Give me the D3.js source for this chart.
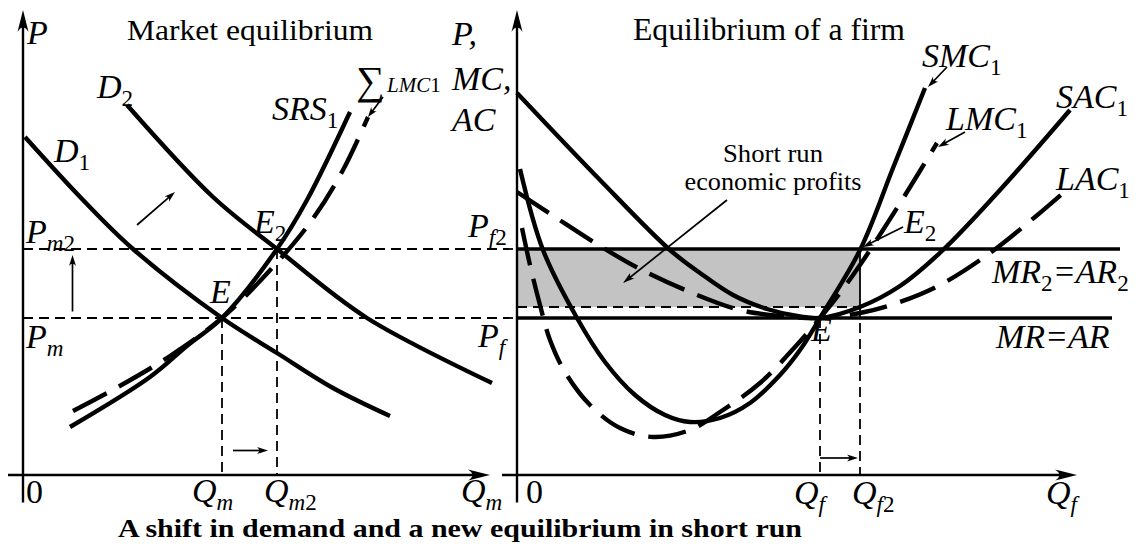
<!DOCTYPE html>
<html>
<head>
<meta charset="utf-8">
<script src="https://cdn.jsdelivr.net/npm/d3@7"></script>
<style>
  body { margin: 0; background: #fff; }
  svg { display: block; }
  text { font-family: "Liberation Serif", "Times New Roman", serif; fill: #000; }
</style>
</head>
<body>
<div id="chart"></div>
<script>
// ---- data (quantity, price) ----
// market panel
var marketQ = [39.8, 50.8];          // Qm, Qm2
var marketP = [31.4, 45.2];          // Pm, Pm2
var demand1 = [[0.4, 67.6], [12, 55], [22, 45.2], [39.8, 31.4], [50.8, 24.4], [62, 17.4], [73.4, 11.8]];
var demand2 = [[20.8, 74], [38, 55.6], [50.8, 45.2], [68.8, 31.4], [93.8, 18.4]];
var srs1 = [[9.4, 9.6], [25.4, 19.6], [33, 26], [39.8, 31.4], [50.8, 45.2], [56.8, 55], [65.4, 72.6]];
var sumLmc1 = [[10, 12.8], [19, 17.6], [29.4, 23.8], [39.8, 31.4], [50, 41.6], [57.8, 51], [64, 61], [69, 71.6]];

// firm panel
var firmQ = [60.6, 68.6];            // Qf, Qf2
var firmP = [31.4, 45.2];            // Pf, Pf2
var sac1 = [[0, 76.4], [16.6, 59], [30.6, 45], [36.6, 40.4], [43.2, 36], [50, 33.2], [56.6, 31.7], [60.6, 31.4],
            [68.6, 33.6], [76.6, 37.8], [85.2, 45], [96.6, 57], [110.6, 73]];
var smc1 = [[0.6, 61.2], [5.2, 45], [12, 31.4], [17.6, 22.6], [23.6, 16], [29.6, 12], [34.6, 10.6], [40.6, 11.4],
            [46.6, 14.4], [52.6, 20], [56.6, 25], [60.6, 31.4], [68.6, 45], [75.2, 61.4], [81.6, 77.4]];
var lmc1 = [[1, 49.4], [2.6, 42], [4.6, 34], [6.6, 27], [9.6, 20.6], [14.6, 14], [20.6, 9.4], [27.2, 7.6], [34.6, 9],
            [40.6, 12.6], [48.6, 18.4], [55.6, 25.6], [60.6, 31.4], [64.6, 36.4], [68.6, 42], [73.2, 49], [78, 56.6], [84, 66.4]];
var lac1 = [[0, 56.6], [7.6, 51.6], [16.6, 45.8], [24.6, 41.2], [34.6, 36.6], [44.6, 33], [52.6, 31.8], [60.6, 31.4],
            [68.6, 32.4], [76.6, 34.6], [84.6, 38], [94.6, 44.4], [103.6, 51.6], [110.6, 57.6]];
var mrEnd = [119, 120.6];            // right ends of MR=AR and MR2=AR2

var svg = d3.select("#chart").append("svg")
    .attr("width", 1142)
    .attr("height", 544);

var xL = d3.scaleLinear().domain([0, 94]).range([23, 493]);
var xR = d3.scaleLinear().domain([0, 112]).range([517, 1077]);
var y = d3.scaleLinear().domain([0, 93]).range([475, 10]);

function curve(sx) {
    return d3.line()
        .x(function(d) { return sx(d[0]); })
        .y(function(d) { return y(d[1]); })
        .curve(d3.curveCatmullRom.alpha(0.5));
}

function seg(x1, y1, x2, y2, w, dash) {
    var l = svg.append("line")
        .attr("x1", x1).attr("y1", y1).attr("x2", x2).attr("y2", y2)
        .attr("stroke", "#000").attr("stroke-width", w);
    if (dash) l.attr("stroke-dasharray", dash);
    return l;
}

// arrow with a latex-like head, tip at (x2,y2)
function arrow(x1, y1, x2, y2, w, len, hw) {
    var a = Math.atan2(y2 - y1, x2 - x1);
    var back = len * 0.6;
    seg(x1, y1, x2 - Math.cos(a) * back, y2 - Math.sin(a) * back, w);
    var pts = [[0, 0], [-len, -hw], [-len * 0.6, 0], [-len, hw]];
    var p = pts.map(function(q) {
        return [x2 + q[0] * Math.cos(a) - q[1] * Math.sin(a), y2 + q[0] * Math.sin(a) + q[1] * Math.cos(a)];
    });
    svg.append("path")
        .attr("d", "M" + p[0] + "L" + p[1] + "Q" + p[2] + " " + p[3] + "Z")
        .attr("fill", "#000");
}

// text with subscripts: parts = [[string, style]], style i / r / si / sr
function rich(x, yy, parts, size) {
    var t = svg.append("text").attr("x", x).attr("y", yy).attr("font-size", size);
    var shift = 0;
    parts.forEach(function(p) {
        var sub = p[1][0] === "s";
        var target = sub ? size * 0.24 : 0;
        t.append("tspan").text(p[0])
            .attr("dy", target - shift)
            .attr("font-size", sub ? size * 0.68 : size)
            .attr("font-style", p[1].slice(-1) === "i" ? "italic" : "normal");
        shift = target;
    });
    return t;
}

// plain text stretched to the width it has in the picture
function plain(x, yy, s, size, width, anchor, weight) {
    var t = svg.append("text").attr("x", x).attr("y", yy).attr("font-size", size)
        .attr("textLength", width).attr("lengthAdjust", "spacingAndGlyphs").text(s);
    if (anchor) t.attr("text-anchor", anchor);
    if (weight) t.attr("font-weight", weight);
    return t;
}

// ---- profit area ----
var sacAtQf2 = sac1.filter(function(d) { return d[0] === firmQ[1]; })[0][1];
svg.append("rect")
    .attr("x", xR(0)).attr("y", y(firmP[1]))
    .attr("width", xR(firmQ[1]) - xR(0))
    .attr("height", y(sacAtQf2) - y(firmP[1]))
    .attr("fill", "#c3c3c3");
seg(xR(firmQ[1]), y(firmP[1]), xR(firmQ[1]), y(sacAtQf2), 1.8);
seg(xR(0), y(sacAtQf2), xR(firmQ[1]), y(sacAtQf2), 1.8, "10,6");

// ---- guide lines ----
marketP.forEach(function(p) { seg(xL(0), y(p), xR(0), y(p), 1.8, "10,6"); });
marketQ.forEach(function(q, i) { seg(xL(q), y(marketP[i]), xL(q), y(0), 1.8, "10,6"); });
seg(xR(firmQ[0]), y(firmP[0]), xR(firmQ[0]), y(0), 1.8, "10,6");
seg(xR(firmQ[1]), y(sacAtQf2), xR(firmQ[1]), y(0), 1.8, "10,6");

// MR = AR lines
seg(xR(0), y(firmP[0]), xR(mrEnd[0]), y(firmP[0]), 3.5);
seg(xR(0), y(firmP[1]), xR(mrEnd[1]), y(firmP[1]), 3.5);

// ---- axes ----
[[xL, 93.4], [xR, 112]].forEach(function(a) {
    var sx = a[0];
    seg(sx(0), y(-5.5), sx(0), y(90), 2.4);
    arrow(sx(0), y(90), sx(0), y(93), 2.4, 22, 5.5);
    seg(sx(-3), y(0), sx(a[1] - 3), y(0), 2.4);
    arrow(sx(a[1] - 3), y(0), sx(a[1]), y(0), 2.4, 22, 5.5);
});

// ---- curves ----
function draw(data, sx, dashed) {
    var p = svg.append("path")
        .attr("d", curve(sx)(data))
        .attr("fill", "none")
        .attr("stroke", "#000")
        .attr("stroke-width", 4.4);
    if (dashed) p.attr("stroke-dasharray", "38,14");
}
draw(demand1, xL);
draw(demand2, xL);
draw(srs1, xL);
draw(sumLmc1, xL, true);
draw(sac1, xR);
draw(smc1, xR);
draw(lac1, xR, true);
draw(lmc1, xR, true);

// ---- small arrows ----
arrow(xL(9.9), y(32.7), xL(9.9), y(44), 1.7, 11, 3.5);
arrow(xL(22.8), y(50), xL(30.4), y(56.6), 1.7, 11, 3.5);
arrow(xL(42), y(4.9), xL(49), y(4.9), 1.7, 11, 3.5);
arrow(xR(60.6), y(3.4), xR(68.2), y(3.4), 1.7, 11, 3.5);
arrow(xR(42), y(55), xR(21.2), y(38.4), 1.7, 12, 3.5);
arrow(xR(86), y(81.6), xR(82.2), y(77.6), 1.7, 11, 3.5);
arrow(xR(89.6), y(68.6), xR(84.2), y(65.6), 1.7, 11, 3.5);
arrow(xR(77.2), y(49.6), xR(69.2), y(45.6), 1.7, 11, 3.5);
arrow(xL(72), y(75.6), xL(69), y(71.6), 1.7, 10, 3.5);

// ---- labels: market ----
var L = 34;
rich(27, 44, [["P", "i"]], L);
plain(127, 40, "Market equilibrium", 30, 246);
rich(97, 98, [["D", "i"], ["2", "sr"]], L);
rich(54, 162, [["D", "i"], ["1", "sr"]], L);
rich(272, 120, [["SRS", "i"], ["1", "sr"]], L);
svg.append("text").attr("x", 356).attr("y", 94).attr("font-size", 40).text("\u2211");
rich(387, 92, [["LMC", "i"], ["1", "r"]], 21);
rich(26, 243, [["P", "i"], ["m", "si"], ["2", "sr"]], L);
rich(26, 348, [["P", "i"], ["m", "si"]], L);
rich(210, 303, [["E", "i"]], L);
rich(254, 233, [["E", "i"], ["2", "sr"]], L);
svg.append("text").attr("x", 26).attr("y", 503).attr("font-size", L).text("0");
rich(192, 502, [["Q", "i"], ["m", "si"]], L);
rich(264, 502, [["Q", "i"], ["m", "si"], ["2", "sr"]], L);
rich(461, 502, [["Q", "i"], ["m", "si"]], L);

// ---- labels: firm ----
rich(452, 45, [["P,", "i"]], L);
rich(452, 90, [["MC,", "i"]], L);
rich(452, 131, [["AC", "i"]], L);
plain(633, 40, "Equilibrium of a firm", 31, 272);
plain(773, 162, "Short run", 26, 100, "middle");
plain(773, 190, "economic profits", 26, 177, "middle");
rich(468, 237, [["P", "i"], ["f", "si"], ["2", "sr"]], L);
rich(478, 347, [["P", "i"], ["f", "si"]], L);
rich(922, 67, [["SMC", "i"], ["1", "sr"]], L);
rich(946, 130, [["LMC", "i"], ["1", "sr"]], L);
rich(1056, 108, [["SAC", "i"], ["1", "sr"]], L);
rich(1056, 190, [["LAC", "i"], ["1", "sr"]], L);
rich(904, 233, [["E", "i"], ["2", "sr"]], L);
rich(811, 341, [["E", "i"]], L);
rich(992, 283, [["MR", "i"], ["2", "sr"], ["=AR", "i"], ["2", "sr"]], L);
rich(996, 348, [["MR=AR", "i"]], L);
svg.append("text").attr("x", 526).attr("y", 503).attr("font-size", L).text("0");
rich(794, 504, [["Q", "i"], ["f", "si"]], L);
rich(852, 504, [["Q", "i"], ["f", "si"], ["2", "sr"]], L);
rich(1046, 504, [["Q", "i"], ["f", "si"]], L);

// ---- bottom title ----
plain(460, 537, "A shift in demand and a new equilibrium in short run", 25, 684, "middle", "bold");
</script>
</body>
</html>
